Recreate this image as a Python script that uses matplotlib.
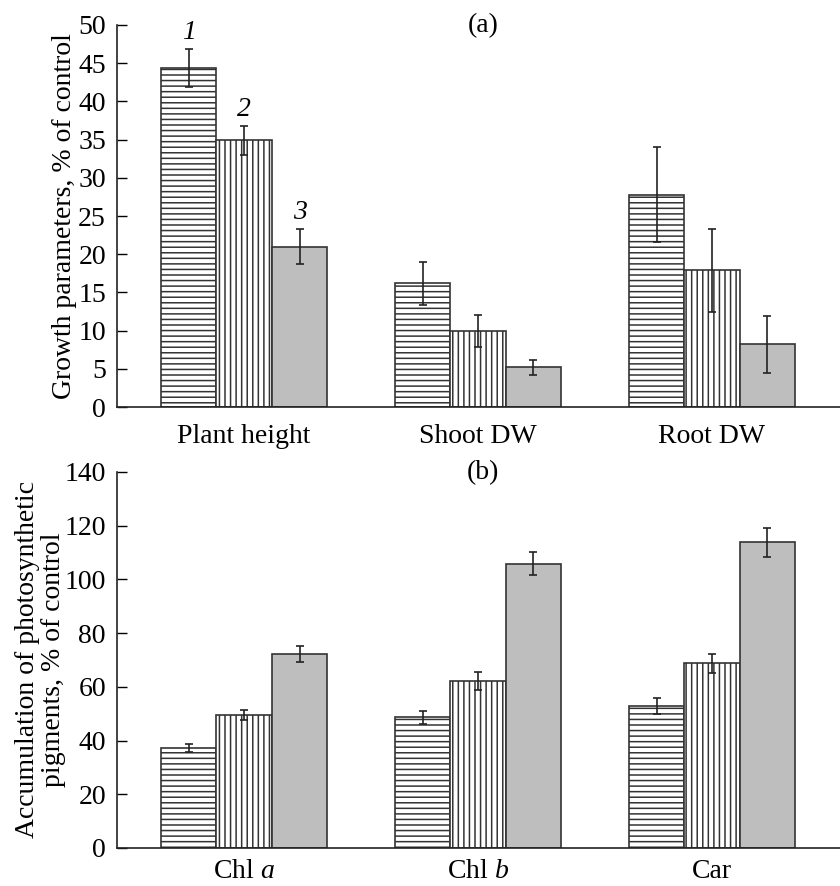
import matplotlib
matplotlib.use("Agg")
import matplotlib.pyplot as plt
import numpy as np

plt.rcParams['font.family'] = ['Liberation Serif', 'DejaVu Serif']
plt.rcParams['hatch.linewidth'] = 1.1
plt.rcParams['hatch.color'] = '#222222'
plt.rcParams['mathtext.fontset'] = 'custom'
plt.rcParams['mathtext.rm'] = 'Liberation Serif'
plt.rcParams['mathtext.it'] = 'Liberation Serif:italic'

# Panel (a)
cats_a = ["Plant height", "Shoot DW", "Root DW"]
s1_a = [44.4, 16.2, 27.8]
s2_a = [34.9, 10.0, 17.9]
s3_a = [21.0, 5.2, 8.2]
e1_a = [2.5, 2.8, 6.2]
e2_a = [1.9, 2.1, 5.4]
e3_a = [2.3, 1.0, 3.7]
yticks_a = [0, 5, 10, 15, 20, 25, 30, 35, 40, 45, 50]

# Panel (b)
cats_b = ["Chl $\\it{a}$", "Chl $\\it{b}$", "Car"]
s1_b = [37.3, 48.7, 52.9]
s2_b = [49.6, 62.3, 68.8]
s3_b = [72.2, 105.9, 113.8]
e1_b = [1.6, 2.4, 3.0]
e2_b = [1.8, 3.3, 3.5]
e3_b = [3.1, 4.4, 5.4]
yticks_b = [0, 20, 40, 60, 80, 100, 120, 140]

series_labels = ["1", "2", "3"]

fig = plt.figure(figsize=(8.4, 8.86), dpi=100)
ax1 = fig.add_axes([0.1393, 0.5406, 0.8607, 0.4312])
ax2 = fig.add_axes([0.1393, 0.0429, 0.8607, 0.4244])

w = 0.237
styles = [dict(facecolor='white', hatch='---'),
          dict(facecolor='white', hatch='|||'),
          dict(facecolor='#bebebe', hatch=None)]
FS = 20

def draw(ax, cats, vals, errs, yticks, ylabel, annotate=False, lpad=2, xpad=12):
    x = np.arange(len(cats))
    for i, (v, e) in enumerate(zip(vals, errs)):
        xs = x + (i - 1) * w
        ax.bar(xs, v, width=w, edgecolor='#333333', linewidth=1.2, zorder=2,
               **styles[i])
        ax.errorbar(xs, v, yerr=e, fmt='none', ecolor='#222222', elinewidth=1.2,
                    capsize=2.8, capthick=1.2, zorder=3)
        if annotate:
            ax.annotate(series_labels[i], (xs[0], v[0] + e[0]), xytext=(0, 3),
                        textcoords='offset points', ha='center', va='bottom',
                        fontsize=FS, style='italic')
    ax.set_xlim(-0.543, 2.547)
    ax.set_ylim(yticks[0], yticks[-1])
    ax.set_yticks(yticks)
    ax.set_xticks(x)
    ax.set_xticklabels(cats, fontsize=FS)
    ax.tick_params(axis='x', length=0, pad=xpad)
    ax.tick_params(axis='y', direction='in', length=7, width=1, labelsize=FS, pad=8)
    for s in ['top', 'right']:
        ax.spines[s].set_visible(False)
    for s in ['left', 'bottom']:
        ax.spines[s].set_linewidth(1.2)
        ax.spines[s].set_color('#222222')
    ax.set_ylabel(ylabel, fontsize=FS, labelpad=lpad, linespacing=1.05)

draw(ax1, cats_a, [s1_a, s2_a, s3_a], [e1_a, e2_a, e3_a], yticks_a,
     "Growth parameters, % of control", annotate=True, lpad=1, xpad=12)
draw(ax2, cats_b, [s1_b, s2_b, s3_b], [e1_b, e2_b, e3_b], yticks_b,
     "Accumulation of photosynthetic\npigments, % of control", lpad=-1, xpad=8)

fig.text(483 / 840, 1 - 26 / 886, "(a)", ha='center', va='center', fontsize=FS)
fig.text(483 / 840, 1 - 473 / 886, "(b)", ha='center', va='center', fontsize=FS)

fig.savefig("out.png", dpi=100)
